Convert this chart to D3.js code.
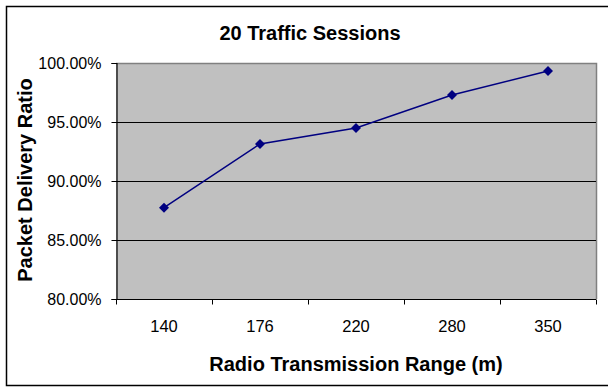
<!DOCTYPE html>
<html>
<head>
<meta charset="utf-8">
<script src="https://cdn.jsdelivr.net/npm/d3@7"></script>
<style>
  body { margin: 0; background: #fff; }
  text { font-family: Arial, "Liberation Sans", sans-serif; fill: #000; }
</style>
</head>
<body>
<div id="chart"></div>
<script>
'use strict'

const ranges = ['140', '176', '220', '280', '350']
const deliveryRatio = [0.8774, 0.9314, 0.9449, 0.9729, 0.9932]
const yTicks = [0.80, 0.85, 0.90, 0.95, 1.00]

const width = 608,
		height = 387
const plot = { left: 116, right: 596, top: 63, bottom: 299 }

const svg = d3.select('#chart').append('svg')
	.attr('width', width)
	.attr('height', height)

// outer chart frame (right side runs off the picture)
svg.append('rect')
	.attr('x', 6.5).attr('y', 6.5)
	.attr('width', 620).attr('height', 379)
	.attr('fill', '#fff')
	.attr('stroke', '#000')
	.attr('stroke-width', 1.5)

const x = d3.scaleBand()
	.domain(ranges)
	.range([plot.left, plot.right])

const y = d3.scaleLinear()
	.domain([0.8, 1.0])
	.range([plot.bottom, plot.top])

// plot area
svg.append('rect')
	.attr('x', plot.left).attr('y', plot.top)
	.attr('width', plot.right - plot.left)
	.attr('height', plot.bottom - plot.top)
	.attr('fill', '#c0c0c0')

// top + right border in grey
svg.append('path')
	.attr('d', `M${plot.left},${plot.top + 0.5}H${plot.right + 0.5}V${plot.bottom}`)
	.attr('fill', 'none')
	.attr('stroke', '#808080')
	.attr('stroke-width', 1.5)

// gridlines
svg.append('g')
	.selectAll('line')
	.data(yTicks.filter(d => d > 0.8 && d < 1.0))
	.enter().append('line')
	.attr('x1', plot.left).attr('x2', plot.right)
	.attr('y1', d => Math.round(y(d)) + 0.5)
	.attr('y2', d => Math.round(y(d)) + 0.5)
	.attr('stroke', '#000')
	.attr('stroke-width', 1)

// y axis
const yAxis = svg.append('g')
	.attr('transform', `translate(${plot.left + 0.5},0)`)
	.call(d3.axisLeft(y).tickValues(yTicks).tickFormat(d3.format('.2%')).tickSize(5).tickPadding(10))
yAxis.select('.domain').attr('stroke', '#000').attr('stroke-width', 1.2)
yAxis.selectAll('.tick line').attr('stroke', '#000')
yAxis.selectAll('.tick text')
	.style('font-size', '16px')
	.style('font-family', 'Arial, "Liberation Sans", sans-serif')
	.attr('fill', '#000')

// x axis: ticks on the band boundaries
const xAxisG = svg.append('g')
	.attr('transform', `translate(0,${plot.bottom + 0.5})`)
xAxisG.append('line')
	.attr('x1', plot.left).attr('x2', plot.right)
	.attr('stroke', '#000').attr('stroke-width', 1.2)
const bounds = ranges.map(d => x(d)).concat([x(ranges[ranges.length - 1]) + x.bandwidth()])
xAxisG.selectAll('.xtick')
	.data(bounds)
	.enter().append('line')
	.attr('x1', d => Math.round(d) + 0.5).attr('x2', d => Math.round(d) + 0.5)
	.attr('y1', 0).attr('y2', 5)
	.attr('stroke', '#000')
xAxisG.selectAll('.xlabel')
	.data(ranges)
	.enter().append('text')
	.attr('x', d => x(d) + x.bandwidth() / 2)
	.attr('y', 32)
	.attr('text-anchor', 'middle')
	.style('font-size', '16.5px')
	.text(d => d)

// line + markers
const line = d3.line()
	.x((d, i) => x(ranges[i]) + x.bandwidth() / 2)
	.y(d => y(d))

svg.append('path')
	.datum(deliveryRatio)
	.attr('d', line)
	.attr('fill', 'none')
	.attr('stroke', '#000080')
	.attr('stroke-width', 1.5)

svg.append('g')
	.selectAll('path')
	.data(deliveryRatio)
	.enter().append('path')
	.attr('transform', (d, i) => `translate(${x(ranges[i]) + x.bandwidth() / 2},${y(d)})`)
	.attr('d', 'M0,-5L5,0L0,5L-5,0Z')
	.attr('fill', '#000080')

// titles
svg.append('text')
	.attr('x', 310).attr('y', 40)
	.attr('text-anchor', 'middle')
	.style('font-size', '20px').style('font-weight', 'bold')
	.text('20 Traffic Sessions')

svg.append('text')
	.attr('x', 356).attr('y', 371)
	.attr('text-anchor', 'middle')
	.style('font-size', '20px').style('font-weight', 'bold')
	.text('Radio Transmission Range (m)')

svg.append('text')
	.attr('transform', 'translate(32,180) rotate(-90)')
	.attr('text-anchor', 'middle')
	.style('font-size', '20px').style('font-weight', 'bold')
	.text('Packet Delivery Ratio')
</script>
</body>
</html>
